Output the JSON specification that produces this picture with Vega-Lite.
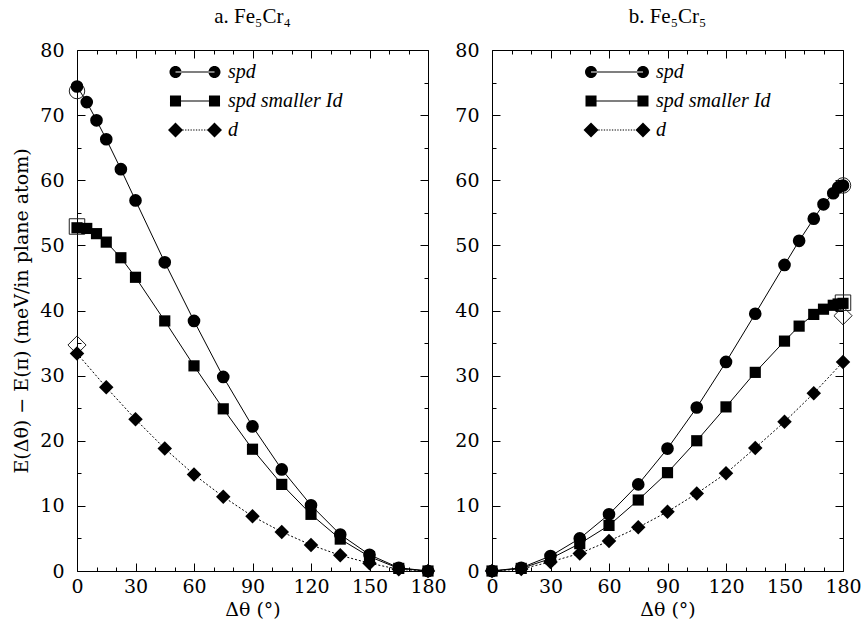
{
  "$schema": "https://vega.github.io/schema/vega-lite/v6.json",
  "background": "white",
  "padding": {"left": 12, "top": 5, "right": 5, "bottom": 5},
  "spacing": 7,
  "config": {
    "font": "Liberation Serif",
    "view": {"stroke": "black", "strokeWidth": 1},
    "axis": {
      "labelFontSize": 19, "labelColor": "black",
      "titleFontSize": 19, "titleFontWeight": "normal", "titleColor": "black",
      "domainColor": "black", "tickColor": "black", "grid": false
    },
    "title": {"fontSize": 21, "fontWeight": "normal", "color": "black", "offset": 14}
  },
  "hconcat": [
    {
      "width": 351, "height": 521,
      "title": "a. Fe₅Cr₄",
      "data": {"values": [
        {"s": "spd", "k": "f", "x": 0, "y": 74.4}, {"s": "spd", "k": "f", "x": 5, "y": 72.0}, {"s": "spd", "k": "f", "x": 10, "y": 69.2}, {"s": "spd", "k": "f", "x": 15, "y": 66.3}, {"s": "spd", "k": "f", "x": 22.5, "y": 61.7}, {"s": "spd", "k": "f", "x": 30, "y": 56.9}, {"s": "spd", "k": "f", "x": 45, "y": 47.4}, {"s": "spd", "k": "f", "x": 60, "y": 38.4}, {"s": "spd", "k": "f", "x": 75, "y": 29.8}, {"s": "spd", "k": "f", "x": 90, "y": 22.2}, {"s": "spd", "k": "f", "x": 105, "y": 15.6}, {"s": "spd", "k": "f", "x": 120, "y": 10.1}, {"s": "spd", "k": "f", "x": 135, "y": 5.6}, {"s": "spd", "k": "f", "x": 150, "y": 2.5}, {"s": "spd", "k": "f", "x": 165, "y": 0.5}, {"s": "spd", "k": "f", "x": 180, "y": 0},
        {"s": "spd", "k": "o", "x": 0, "y": 73.7},
        {"s": "spd smaller Id", "k": "f", "x": 0, "y": 52.7}, {"s": "spd smaller Id", "k": "f", "x": 5, "y": 52.6}, {"s": "spd smaller Id", "k": "f", "x": 10, "y": 51.8}, {"s": "spd smaller Id", "k": "f", "x": 15, "y": 50.5}, {"s": "spd smaller Id", "k": "f", "x": 22.5, "y": 48.1}, {"s": "spd smaller Id", "k": "f", "x": 30, "y": 45.1}, {"s": "spd smaller Id", "k": "f", "x": 45, "y": 38.4}, {"s": "spd smaller Id", "k": "f", "x": 60, "y": 31.5}, {"s": "spd smaller Id", "k": "f", "x": 75, "y": 24.9}, {"s": "spd smaller Id", "k": "f", "x": 90, "y": 18.7}, {"s": "spd smaller Id", "k": "f", "x": 105, "y": 13.3}, {"s": "spd smaller Id", "k": "f", "x": 120, "y": 8.7}, {"s": "spd smaller Id", "k": "f", "x": 135, "y": 4.9}, {"s": "spd smaller Id", "k": "f", "x": 150, "y": 2.2}, {"s": "spd smaller Id", "k": "f", "x": 165, "y": 0.4}, {"s": "spd smaller Id", "k": "f", "x": 180, "y": 0},
        {"s": "spd smaller Id", "k": "o", "x": 0, "y": 52.9},
        {"s": "d", "k": "f", "x": 0, "y": 33.4}, {"s": "d", "k": "f", "x": 15, "y": 28.2}, {"s": "d", "k": "f", "x": 30, "y": 23.3}, {"s": "d", "k": "f", "x": 45, "y": 18.8}, {"s": "d", "k": "f", "x": 60, "y": 14.8}, {"s": "d", "k": "f", "x": 75, "y": 11.4}, {"s": "d", "k": "f", "x": 90, "y": 8.4}, {"s": "d", "k": "f", "x": 105, "y": 6.0}, {"s": "d", "k": "f", "x": 120, "y": 4.0}, {"s": "d", "k": "f", "x": 135, "y": 2.4}, {"s": "d", "k": "f", "x": 150, "y": 1.2}, {"s": "d", "k": "f", "x": 165, "y": 0.25}, {"s": "d", "k": "f", "x": 180, "y": 0},
        {"s": "d", "k": "o", "x": 0, "y": 34.7}
      ]},
      "layer": [
        {
          "mark": {"type": "line", "color": "black", "strokeWidth": 1},
          "transform": [{"filter": "datum.k == 'f' && datum.s != 'd'"}],
          "encoding": {
            "x": {"field": "x", "type": "quantitative", "scale": {"domain": [0, 180], "nice": false},
              "axis": {"orient": "bottom", "values": [0,10,20,30,40,50,60,70,80,90,100,110,120,130,140,150,160,170,180], "labelExpr": "datum.value % 30 === 0 ? datum.label : ''", "tickSize": {"condition": {"test": "datum.value % 30 === 0", "value": -8}, "value": -4}, "labelPadding": 14, "labelFont": "DejaVu Serif", "titleFont": "DejaVu Serif", "title": "Δθ   (°)", "titlePadding": 4, "domain": false, "labelFlush": false}},
            "y": {"field": "y", "type": "quantitative", "scale": {"domain": [0, 80], "nice": false},
              "axis": {"orient": "left", "values": [0,5,10,15,20,25,30,35,40,45,50,55,60,65,70,75,80], "labelExpr": "datum.value % 10 === 0 ? datum.label : ''", "tickSize": {"condition": {"test": "datum.value % 10 === 0", "value": -8}, "value": -4}, "labelPadding": 21, "labelFont": "DejaVu Serif", "titleFont": "DejaVu Serif", "title": "E(Δθ) − E(π)   (meV/in plane atom)", "titlePadding": 8, "domain": false, "labelFlush": false}},
            "detail": {"field": "s"},
            "order": {"field": "x", "type": "quantitative"}
          }
        },
        {
          "mark": {"type": "line", "color": "black", "strokeWidth": 1, "strokeDash": [2, 2]},
          "transform": [{"filter": "datum.k == 'f' && datum.s == 'd'"}],
          "encoding": {
            "x": {"field": "x", "type": "quantitative",
              "axis": {"orient": "top", "values": [0,10,20,30,40,50,60,70,80,90,100,110,120,130,140,150,160,170,180], "labels": false, "tickSize": {"condition": {"test": "datum.value % 30 === 0", "value": -8}, "value": -4}, "title": null, "domain": false}},
            "y": {"field": "y", "type": "quantitative",
              "axis": {"orient": "right", "values": [0,5,10,15,20,25,30,35,40,45,50,55,60,65,70,75,80], "labels": false, "tickSize": {"condition": {"test": "datum.value % 10 === 0", "value": -8}, "value": -4}, "title": null, "domain": false}},
            "order": {"field": "x", "type": "quantitative"}
          }
        },
        {
          "mark": {"type": "point", "filled": false, "color": "#222", "strokeWidth": 1, "opacity": 1},
          "transform": [{"filter": "datum.k == 'o'"}],
          "encoding": {
            "x": {"field": "x", "type": "quantitative", "axis": null},
            "y": {"field": "y", "type": "quantitative", "axis": null},
            "shape": {"field": "s", "type": "nominal", "scale": {"domain": ["spd", "spd smaller Id", "d"], "range": ["circle", "square", "diamond"]}, "legend": null},
            "size": {"field": "s", "type": "nominal", "scale": {"type": "ordinal", "domain": ["spd", "spd smaller Id", "d"], "range": [240, 240, 330]}, "legend": null}
          }
        },
        {
          "mark": {"type": "point", "filled": true, "color": "black", "opacity": 1},
          "transform": [{"filter": "datum.k == 'f'"}],
          "encoding": {
            "x": {"field": "x", "type": "quantitative", "axis": null},
            "y": {"field": "y", "type": "quantitative", "axis": null},
            "shape": {"field": "s", "type": "nominal", "scale": {"domain": ["spd", "spd smaller Id", "d"], "range": ["circle", "square", "diamond"]}, "legend": null},
            "size": {"field": "s", "type": "nominal", "scale": {"type": "ordinal", "domain": ["spd", "spd smaller Id", "d"], "range": [160, 125, 210]}, "legend": null}
          }
        },
        {
          "mark": {"type": "point", "filled": true, "color": "black", "opacity": 0},
          "transform": [{"filter": "datum.k == 'o'"}],
          "encoding": {
            "x": {"field": "x", "type": "quantitative", "axis": null},
            "y": {"field": "y", "type": "quantitative", "axis": null},
            "shape": {"field": "s", "type": "nominal",
              "scale": {"domain": ["spd", "spd smaller Id", "d"], "range": [
                "M-4.25,0A1,1,0,1,0,-2.25,0A1,1,0,1,0,-4.25,0ZM2.25,0A1,1,0,1,0,4.25,0A1,1,0,1,0,2.25,0ZM-3.25,-0.09h6.5v0.18h-6.5Z",
                "M-4.17,-0.92h1.84v1.84h-1.84ZM2.33,-0.92h1.84v1.84h-1.84ZM-3.25,-0.09h6.5v0.18h-6.5Z",
                "M-3.25,-1.25l1.25,1.25l-1.25,1.25l-1.25,-1.25ZM3.25,-1.25l1.25,1.25l-1.25,1.25l-1.25,-1.25ZM-2.1,-0.09h0.22v0.18h-0.22ZM-1.65,-0.09h0.22v0.18h-0.22ZM-1.2,-0.09h0.22v0.18h-0.22ZM-0.75,-0.09h0.22v0.18h-0.22ZM-0.3,-0.09h0.22v0.18h-0.22ZM0.15,-0.09h0.22v0.18h-0.22ZM0.6,-0.09h0.22v0.18h-0.22ZM1.05,-0.09h0.22v0.18h-0.22ZM1.5,-0.09h0.22v0.18h-0.22ZM1.95,-0.09h0.22v0.18h-0.22Z"
              ]},
              "legend": {"title": null, "orient": "none", "legendX": 108, "legendY": 12, "symbolSize": 144, "labelOffset": 23, "labelFontSize": 20, "labelFontStyle": "italic", "labelFont": "Liberation Serif", "labelColor": "black", "rowPadding": 9, "padding": 0, "symbolOpacity": 1, "symbolFillColor": "black", "symbolStrokeColor": "black", "symbolStrokeWidth": 0, "labelLimit": 300,
                "encode": {"symbols": {"update": {"opacity": {"value": 1}, "fill": {"value": "black"}}}}}
            }
          }
        }
      ],
      "resolve": {"axis": {"x": "independent", "y": "independent"}, "scale": {"shape": "independent", "size": "independent"}}
    },
    {
      "width": 351, "height": 521,
      "title": "b. Fe₅Cr₅",
      "data": {"values": [
        {"s": "spd", "k": "f", "x": 0, "y": 0}, {"s": "spd", "k": "f", "x": 15, "y": 0.5}, {"s": "spd", "k": "f", "x": 30, "y": 2.3}, {"s": "spd", "k": "f", "x": 45, "y": 5.0}, {"s": "spd", "k": "f", "x": 60, "y": 8.7}, {"s": "spd", "k": "f", "x": 75, "y": 13.3}, {"s": "spd", "k": "f", "x": 90, "y": 18.8}, {"s": "spd", "k": "f", "x": 105, "y": 25.1}, {"s": "spd", "k": "f", "x": 120, "y": 32.1}, {"s": "spd", "k": "f", "x": 135, "y": 39.5}, {"s": "spd", "k": "f", "x": 150, "y": 47.0}, {"s": "spd", "k": "f", "x": 157.5, "y": 50.7}, {"s": "spd", "k": "f", "x": 165, "y": 54.1}, {"s": "spd", "k": "f", "x": 170, "y": 56.3}, {"s": "spd", "k": "f", "x": 175, "y": 58.0}, {"s": "spd", "k": "f", "x": 177.5, "y": 58.9}, {"s": "spd", "k": "f", "x": 180, "y": 59.2},
        {"s": "spd", "k": "o", "x": 180, "y": 59.2},
        {"s": "spd smaller Id", "k": "f", "x": 0, "y": 0}, {"s": "spd smaller Id", "k": "f", "x": 15, "y": 0.4}, {"s": "spd smaller Id", "k": "f", "x": 30, "y": 1.9}, {"s": "spd smaller Id", "k": "f", "x": 45, "y": 4.2}, {"s": "spd smaller Id", "k": "f", "x": 60, "y": 7.0}, {"s": "spd smaller Id", "k": "f", "x": 75, "y": 10.9}, {"s": "spd smaller Id", "k": "f", "x": 90, "y": 15.1}, {"s": "spd smaller Id", "k": "f", "x": 105, "y": 20.0}, {"s": "spd smaller Id", "k": "f", "x": 120, "y": 25.2}, {"s": "spd smaller Id", "k": "f", "x": 135, "y": 30.5}, {"s": "spd smaller Id", "k": "f", "x": 150, "y": 35.3}, {"s": "spd smaller Id", "k": "f", "x": 157.5, "y": 37.6}, {"s": "spd smaller Id", "k": "f", "x": 165, "y": 39.4}, {"s": "spd smaller Id", "k": "f", "x": 170, "y": 40.2}, {"s": "spd smaller Id", "k": "f", "x": 175, "y": 40.8}, {"s": "spd smaller Id", "k": "f", "x": 177.5, "y": 41.0}, {"s": "spd smaller Id", "k": "f", "x": 180, "y": 41.1},
        {"s": "spd smaller Id", "k": "o", "x": 180, "y": 41.2},
        {"s": "d", "k": "f", "x": 0, "y": 0}, {"s": "d", "k": "f", "x": 15, "y": 0.3}, {"s": "d", "k": "f", "x": 30, "y": 1.4}, {"s": "d", "k": "f", "x": 45, "y": 2.7}, {"s": "d", "k": "f", "x": 60, "y": 4.6}, {"s": "d", "k": "f", "x": 75, "y": 6.7}, {"s": "d", "k": "f", "x": 90, "y": 9.1}, {"s": "d", "k": "f", "x": 105, "y": 11.9}, {"s": "d", "k": "f", "x": 120, "y": 15.0}, {"s": "d", "k": "f", "x": 135, "y": 18.9}, {"s": "d", "k": "f", "x": 150, "y": 22.9}, {"s": "d", "k": "f", "x": 165, "y": 27.3}, {"s": "d", "k": "f", "x": 180, "y": 32.1},
        {"s": "d", "k": "o", "x": 180, "y": 39.2}
      ]},
      "layer": [
        {
          "mark": {"type": "line", "color": "black", "strokeWidth": 1},
          "transform": [{"filter": "datum.k == 'f' && datum.s != 'd'"}],
          "encoding": {
            "x": {"field": "x", "type": "quantitative", "scale": {"domain": [0, 180], "nice": false},
              "axis": {"orient": "bottom", "values": [0,10,20,30,40,50,60,70,80,90,100,110,120,130,140,150,160,170,180], "labelExpr": "datum.value % 30 === 0 ? datum.label : ''", "tickSize": {"condition": {"test": "datum.value % 30 === 0", "value": -8}, "value": -4}, "labelPadding": 14, "labelFont": "DejaVu Serif", "titleFont": "DejaVu Serif", "title": "Δθ   (°)", "titlePadding": 4, "domain": false, "labelFlush": false}},
            "y": {"field": "y", "type": "quantitative", "scale": {"domain": [0, 80], "nice": false},
              "axis": {"orient": "left", "values": [0,5,10,15,20,25,30,35,40,45,50,55,60,65,70,75,80], "labelExpr": "datum.value % 10 === 0 ? datum.label : ''", "tickSize": {"condition": {"test": "datum.value % 10 === 0", "value": -8}, "value": -4}, "labelPadding": 21, "labelFont": "DejaVu Serif", "title": null, "domain": false, "labelFlush": false}},
            "detail": {"field": "s"},
            "order": {"field": "x", "type": "quantitative"}
          }
        },
        {
          "mark": {"type": "line", "color": "black", "strokeWidth": 1, "strokeDash": [2, 2]},
          "transform": [{"filter": "datum.k == 'f' && datum.s == 'd'"}],
          "encoding": {
            "x": {"field": "x", "type": "quantitative",
              "axis": {"orient": "top", "values": [0,10,20,30,40,50,60,70,80,90,100,110,120,130,140,150,160,170,180], "labels": false, "tickSize": {"condition": {"test": "datum.value % 30 === 0", "value": -8}, "value": -4}, "title": null, "domain": false}},
            "y": {"field": "y", "type": "quantitative",
              "axis": {"orient": "right", "values": [0,5,10,15,20,25,30,35,40,45,50,55,60,65,70,75,80], "labels": false, "tickSize": {"condition": {"test": "datum.value % 10 === 0", "value": -8}, "value": -4}, "title": null, "domain": false}},
            "order": {"field": "x", "type": "quantitative"}
          }
        },
        {
          "mark": {"type": "point", "filled": false, "color": "#222", "strokeWidth": 1, "opacity": 1},
          "transform": [{"filter": "datum.k == 'o'"}],
          "encoding": {
            "x": {"field": "x", "type": "quantitative", "axis": null},
            "y": {"field": "y", "type": "quantitative", "axis": null},
            "shape": {"field": "s", "type": "nominal", "scale": {"domain": ["spd", "spd smaller Id", "d"], "range": ["circle", "square", "diamond"]}, "legend": null},
            "size": {"field": "s", "type": "nominal", "scale": {"type": "ordinal", "domain": ["spd", "spd smaller Id", "d"], "range": [240, 240, 330]}, "legend": null}
          }
        },
        {
          "mark": {"type": "point", "filled": true, "color": "black", "opacity": 1},
          "transform": [{"filter": "datum.k == 'f'"}],
          "encoding": {
            "x": {"field": "x", "type": "quantitative", "axis": null},
            "y": {"field": "y", "type": "quantitative", "axis": null},
            "shape": {"field": "s", "type": "nominal", "scale": {"domain": ["spd", "spd smaller Id", "d"], "range": ["circle", "square", "diamond"]}, "legend": null},
            "size": {"field": "s", "type": "nominal", "scale": {"type": "ordinal", "domain": ["spd", "spd smaller Id", "d"], "range": [160, 125, 210]}, "legend": null}
          }
        },
        {
          "mark": {"type": "point", "filled": true, "color": "black", "opacity": 0},
          "transform": [{"filter": "datum.k == 'o'"}],
          "encoding": {
            "x": {"field": "x", "type": "quantitative", "axis": null},
            "y": {"field": "y", "type": "quantitative", "axis": null},
            "shape": {"field": "s", "type": "nominal",
              "scale": {"domain": ["spd", "spd smaller Id", "d"], "range": [
                "M-5.33,0A1,1,0,1,0,-3.33,0A1,1,0,1,0,-5.33,0ZM3.33,0A1,1,0,1,0,5.33,0A1,1,0,1,0,3.33,0ZM-4.33,-0.09h8.66v0.18h-8.66Z",
                "M-5.25,-0.92h1.84v1.84h-1.84ZM3.41,-0.92h1.84v1.84h-1.84ZM-4.33,-0.09h8.66v0.18h-8.66Z",
                "M-4.33,-1.25l1.25,1.25l-1.25,1.25l-1.25,-1.25ZM4.33,-1.25l1.25,1.25l-1.25,1.25l-1.25,-1.25ZM-3.1,-0.09h0.22v0.18h-0.22ZM-2.65,-0.09h0.22v0.18h-0.22ZM-2.2,-0.09h0.22v0.18h-0.22ZM-1.75,-0.09h0.22v0.18h-0.22ZM-1.3,-0.09h0.22v0.18h-0.22ZM-0.85,-0.09h0.22v0.18h-0.22ZM-0.4,-0.09h0.22v0.18h-0.22ZM0.05,-0.09h0.22v0.18h-0.22ZM0.5,-0.09h0.22v0.18h-0.22ZM0.95,-0.09h0.22v0.18h-0.22ZM1.4,-0.09h0.22v0.18h-0.22ZM1.85,-0.09h0.22v0.18h-0.22ZM2.3,-0.09h0.22v0.18h-0.22ZM2.75,-0.09h0.22v0.18h-0.22Z"
              ]},
              "legend": {"title": null, "orient": "none", "legendX": 115, "legendY": 12, "symbolSize": 144, "labelOffset": 29, "labelFontSize": 20, "labelFontStyle": "italic", "labelFont": "Liberation Serif", "labelColor": "black", "rowPadding": 9, "padding": 0, "symbolOpacity": 1, "symbolFillColor": "black", "symbolStrokeColor": "black", "symbolStrokeWidth": 0, "labelLimit": 300,
                "encode": {"symbols": {"update": {"opacity": {"value": 1}, "fill": {"value": "black"}}}}}
            }
          }
        }
      ],
      "resolve": {"axis": {"x": "independent", "y": "independent"}, "scale": {"shape": "independent", "size": "independent"}}
    }
  ]
}
